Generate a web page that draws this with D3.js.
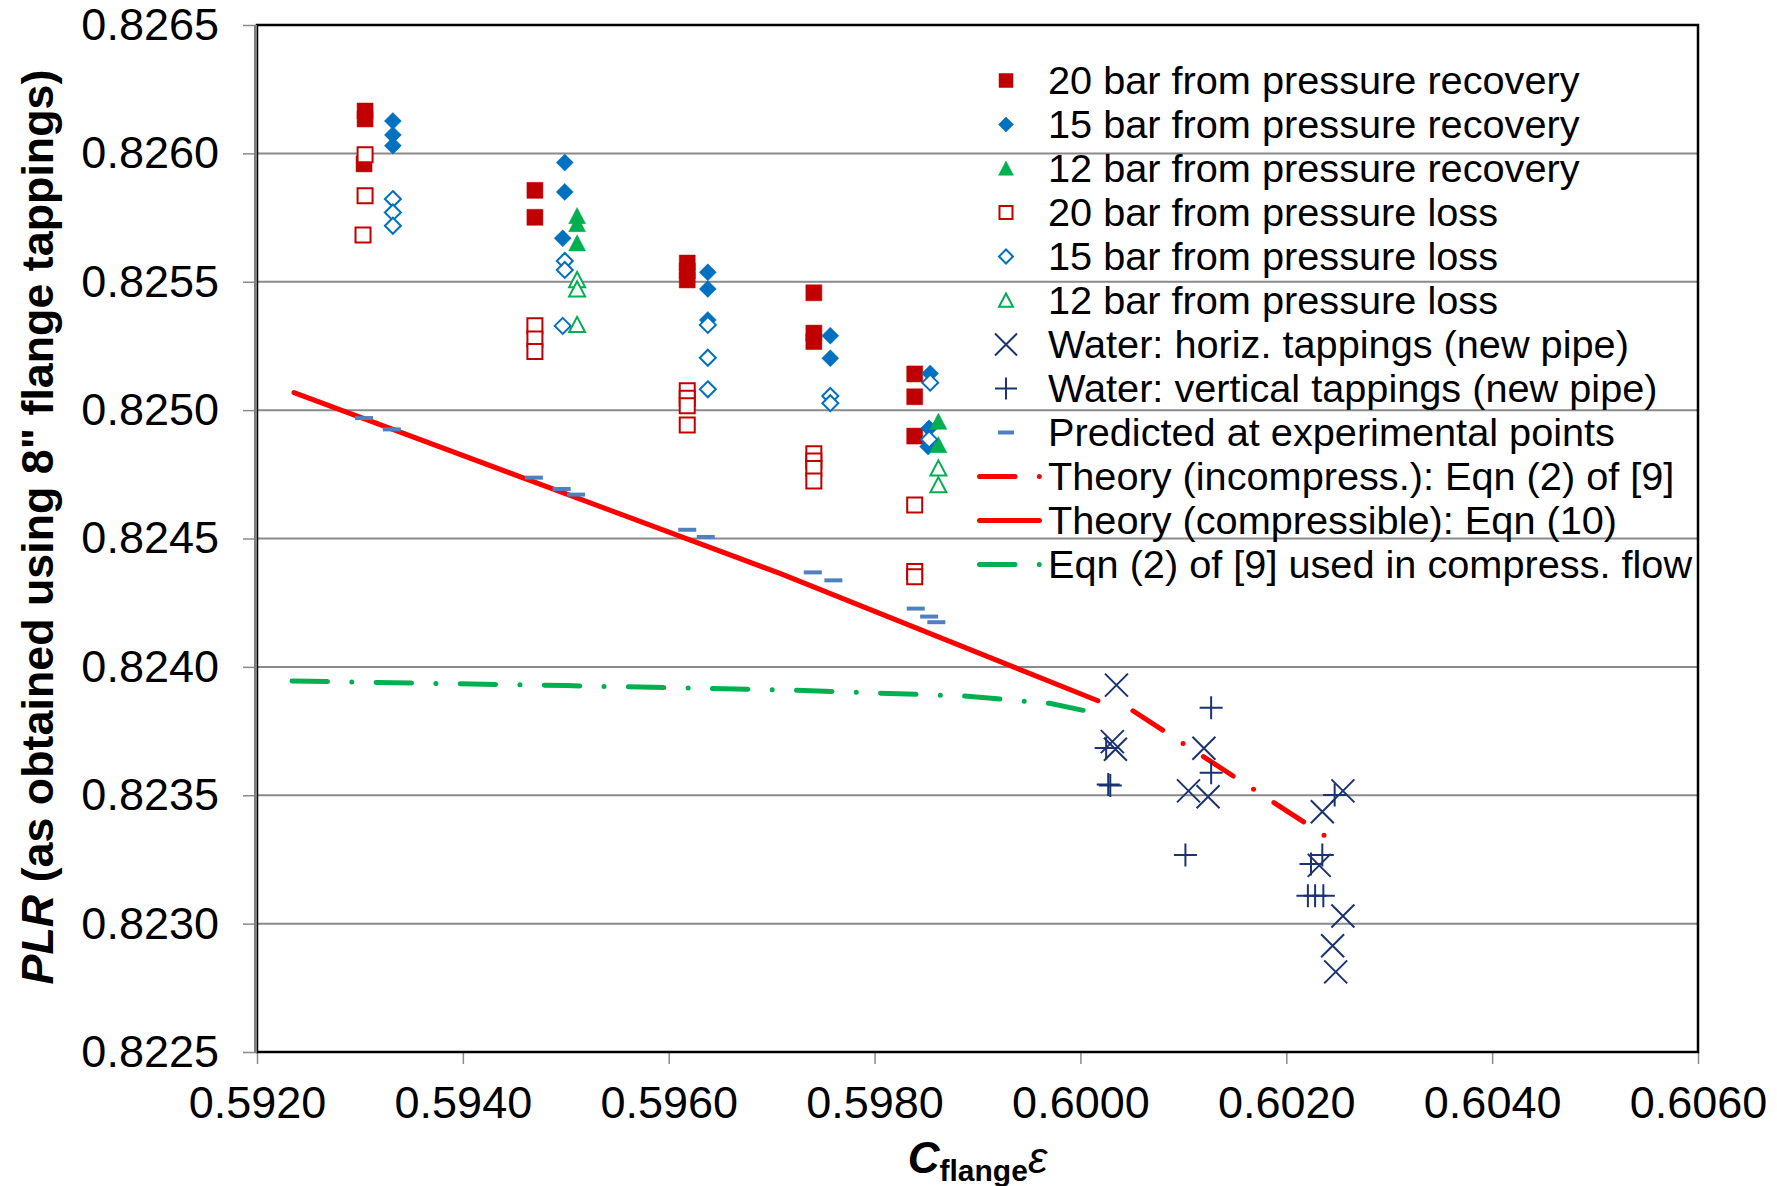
<!DOCTYPE html>
<html>
<head>
<meta charset="utf-8">
<script src="https://cdn.jsdelivr.net/npm/d3@7"></script>
<style>
  body { margin: 0; background: #fff; }
  text { font-family: "Liberation Sans", Arial, sans-serif; fill: #000; }
</style>
</head>
<body>
<div id="chart"></div>
<script>
// axis ticks
const xTicks = [0.592, 0.594, 0.596, 0.598, 0.600, 0.602, 0.604, 0.606];
const yTicks = [0.8225, 0.8230, 0.8235, 0.8240, 0.8245, 0.8250, 0.8255, 0.8260, 0.8265];

// experimental points [C_flange*eps, PLR]
const bar20Recovery = [[0.59305,0.826165],[0.59305,0.826134],[0.59304,0.825959],[0.59470,0.825856],[0.59470,0.825751],
  [0.59618,0.825573],[0.59618,0.825542],[0.59618,0.825507],[0.59741,0.825457],[0.59741,0.825300],[0.59741,0.825267],
  [0.59839,0.825141],[0.59839,0.825052],[0.59839,0.824899]];
const bar15Recovery = [[0.59332,0.826126],[0.59332,0.826072],[0.59332,0.826030],[0.59499,0.825964],[0.59499,0.825850],
  [0.59497,0.825669],[0.59638,0.825537],[0.59638,0.825472],[0.59638,0.825351],[0.59757,0.825290],[0.59757,0.825202],
  [0.59854,0.825143],[0.59853,0.824929],[0.59852,0.824858]];
const bar12Recovery = [[0.59511,0.825756],[0.59511,0.825725],[0.59511,0.825650],[0.59862,0.824955],[0.59862,0.824864]];
const bar20Loss = [[0.59305,0.825995],[0.59305,0.825835],[0.59303,0.825682],[0.59470,0.825329],[0.59470,0.825277],
  [0.59470,0.825228],[0.59618,0.825075],[0.59618,0.825046],[0.59618,0.825017],[0.59618,0.824942],[0.59741,0.824830],
  [0.59741,0.824802],[0.59741,0.824773],[0.59741,0.824724],[0.59839,0.824630],[0.59839,0.824371],[0.59839,0.824351]];
const bar15Loss = [[0.59332,0.825822],[0.59332,0.825770],[0.59332,0.825718],[0.59499,0.825581],[0.59499,0.825546],
  [0.59497,0.825328],[0.59638,0.825332],[0.59638,0.825204],[0.59638,0.825081],[0.59757,0.825055],[0.59757,0.825027],
  [0.59854,0.825107],[0.59853,0.824886]];
const bar12Loss = [[0.59511,0.825507],[0.59511,0.825471],[0.59511,0.825332],[0.59862,0.824773],[0.59862,0.824708]];
const waterHoriz = [[0.60035,0.823929],[0.60031,0.823709],[0.60034,0.823679],[0.60120,0.823683],[0.60105,0.823517],
  [0.60124,0.823494],[0.60255,0.823517],[0.60235,0.823436],[0.60232,0.823227],[0.60255,0.823030],[0.60245,0.822914],
  [0.60248,0.822812]];
const waterVert = [[0.60127,0.823841],[0.60025,0.823684],[0.60027,0.823542],[0.60029,0.823538],[0.60127,0.823588],
  [0.60102,0.823267],[0.60247,0.823501],[0.60235,0.823267],[0.60224,0.823232],[0.60221,0.823109],[0.60228,0.823109],
  [0.60236,0.823109]];
const predicted = [[0.59304,0.824969],[0.59331,0.824925],[0.59469,0.824737],[0.59496,0.824693],[0.59510,0.824671],
  [0.59618,0.824534],[0.59636,0.824506],[0.59740,0.824368],[0.59760,0.824337],[0.59840,0.824227],[0.59853,0.824196],
  [0.59860,0.824174]];

// theory curves
const theoryIncompress = [[0.60051,0.823829],[0.60238,0.823341]];
const theoryCompress = [[0.59236,0.825068],[0.59708,0.824364],[0.60017,0.823868]];
const eqn2Compress = [[0.59234,0.823945],[0.59501,0.823927],[0.59721,0.823909],[0.59886,0.823887],[0.59970,0.823858],[0.60006,0.823828]];

const legendLabels = [
  "20 bar from pressure recovery", "15 bar from pressure recovery", "12 bar from pressure recovery",
  "20 bar from pressure loss", "15 bar from pressure loss", "12 bar from pressure loss",
  "Water: horiz. tappings (new pipe)", "Water: vertical tappings (new pipe)", "Predicted at experimental points",
  "Theory (incompress.): Eqn (2) of [9]", "Theory (compressible): Eqn (10)", "Eqn (2) of [9] used in compress. flow"
];

const W = 1777, H = 1186;
const margin = {top: 25, right: 79, bottom: 134, left: 257};
const width = W - margin.left - margin.right,
      height = H - margin.top - margin.bottom;

const RED = "#c00000", BLUE = "#0070c0", GREEN = "#00b050", NAVY = "#1b3370", DASHBLUE = "#4f81bd";

// marker shapes (size = full width in px)
const shapes = {
  square: {draw(c, s) { const r = s / 2; c.rect(-r, -r, s, s); }},
  diamond: {draw(c, s) { const r = s / 2; c.moveTo(0, -r); c.lineTo(r, 0); c.lineTo(0, r); c.lineTo(-r, 0); c.closePath(); }},
  triangle: {draw(c, s) { const r = s / 2; c.moveTo(0, -r); c.lineTo(r, r * 0.9); c.lineTo(-r, r * 0.9); c.closePath(); }},
  cross: {draw(c, s) { const r = s / 2; c.moveTo(-r, -r); c.lineTo(r, r); c.moveTo(r, -r); c.lineTo(-r, r); }},
  plus: {draw(c, s) { const r = s / 2; c.moveTo(0, -r); c.lineTo(0, r); c.moveTo(-r, 0); c.lineTo(r, 0); }},
  dash: {draw(c, s) { c.rect(-s / 2, -2, s, 4); }}
};

const pointSeries = [
  {data: bar20Recovery, shape: "square", size: 16, fill: RED, stroke: RED, sw: 0.5},
  {data: bar15Recovery, shape: "diamond", size: 17, fill: BLUE, stroke: BLUE, sw: 0.5},
  {data: bar12Recovery, shape: "triangle", size: 17, fill: GREEN, stroke: GREEN, sw: 0.5},
  {data: bar20Loss, shape: "square", size: 15, fill: "#fff", stroke: RED, sw: 2},
  {data: bar15Loss, shape: "diamond", size: 16, fill: "#fff", stroke: BLUE, sw: 2},
  {data: bar12Loss, shape: "triangle", size: 16, fill: "#fff", stroke: GREEN, sw: 2},
  {data: waterHoriz, shape: "cross", size: 23, fill: "none", stroke: NAVY, sw: 2},
  {data: waterVert, shape: "plus", size: 23, fill: "none", stroke: NAVY, sw: 2},
  {data: predicted, shape: "dash", size: 18, fill: DASHBLUE, stroke: "none", sw: 0}
];

const dashDot = "35.5 24.3 0 24.3";
const lineSeries = [
  {data: theoryIncompress, color: "#ff0000", dash: dashDot},
  {data: theoryCompress, color: "#ff0000", dash: null},
  {data: eqn2Compress, color: GREEN, dash: dashDot}
];

const svg = d3.select("#chart")
  .append("svg")
    .attr("width", W)
    .attr("height", H)
  .append("g")
    .attr("transform", `translate(${margin.left},${margin.top})`);

const x = d3.scaleLinear().domain([0.592, 0.606]).range([0, width]);
const y = d3.scaleLinear().domain([0.8225, 0.8265]).range([height, 0]);

// gridlines
svg.append("g")
  .selectAll("line")
  .data(yTicks.slice(1, -1))
  .join("line")
    .attr("x1", 0).attr("x2", width)
    .attr("y1", d => y(d)).attr("y2", d => y(d))
    .attr("stroke", "#8a8a8a")
    .attr("stroke-width", 2);

// axes
const xAxis = svg.append("g")
  .attr("transform", `translate(0,${height})`)
  .call(d3.axisBottom(x).tickValues(xTicks).tickFormat(d3.format(".4f")).tickSize(12).tickPadding(22));
const yAxis = svg.append("g")
  .call(d3.axisLeft(y).tickValues(yTicks).tickFormat(d3.format(".4f")).tickSize(14).tickPadding(24));
[xAxis, yAxis].forEach(a => {
  a.select(".domain").remove();
  a.selectAll(".tick line").attr("stroke", "#8a8a8a").attr("stroke-width", 1.5);
  a.selectAll(".tick text").style("font-family", '"Liberation Sans", Arial, sans-serif').style("font-size", "45px").attr("fill", "#000");
});

// plot frame
svg.append("rect")
  .attr("x", 0).attr("y", 0).attr("width", width).attr("height", height)
  .attr("fill", "none").attr("stroke", "#000").attr("stroke-width", 2.5);
svg.append("line")
  .attr("x1", -1.5).attr("x2", -1.5).attr("y1", 0).attr("y2", height + 1)
  .attr("stroke", "#7f7f7f").attr("stroke-width", 3);

// lines
const line = d3.line().x(d => x(d[0])).y(d => y(d[1]));
svg.append("g")
  .selectAll("path")
  .data(lineSeries)
  .join("path")
    .attr("d", d => line(d.data))
    .attr("fill", "none")
    .attr("stroke", d => d.color)
    .attr("stroke-width", 5)
    .attr("stroke-linecap", "round")
    .attr("stroke-dasharray", d => d.dash);

// markers
pointSeries.forEach(s => {
  svg.append("g")
    .selectAll("path")
    .data(s.data)
    .join("path")
      .attr("transform", d => `translate(${x(d[0])},${y(d[1])})`)
      .attr("d", d3.symbol().type(shapes[s.shape]).size(s.size))
      .attr("fill", s.fill)
      .attr("stroke", s.stroke)
      .attr("stroke-width", s.sw);
});

// legend
const legendX = 1006 - margin.left, legendY0 = 80.5 - margin.top, legendStep = 44;
const legend = svg.append("g");
const items = legend.selectAll("g")
  .data(legendLabels)
  .join("g")
    .attr("transform", (d, i) => `translate(${legendX},${legendY0 + i * legendStep})`);
items.append("text")
  .attr("x", 42)
  .attr("dy", "0.35em")
  .style("font-size", "39.7px")
  .text(d => d);
items.each(function(d, i) {
  const g = d3.select(this);
  if (i < pointSeries.length) {
    const s = pointSeries[i];
    g.append("path")
      .attr("d", d3.symbol().type(shapes[s.shape]).size(s.shape === "cross" || s.shape === "plus" ? 22 : s.size - 2))
      .attr("fill", s.fill)
      .attr("stroke", s.stroke)
      .attr("stroke-width", s.sw);
  } else {
    const l = lineSeries[i - pointSeries.length];
    g.append("line")
      .attr("x1", -26.5).attr("x2", l.dash ? 34.5 : 33.5)
      .attr("stroke", l.color)
      .attr("stroke-width", 5)
      .attr("stroke-linecap", "round")
      .attr("stroke-dasharray", l.dash);
  }
});

// axis titles
const yTitle = svg.append("text")
  .attr("transform", `translate(${37 - margin.left},${527 - margin.top}) rotate(-90)`)
  .attr("text-anchor", "middle")
  .attr("dy", "0.35em")
  .style("font-size", "44.8px")
  .style("font-weight", "bold");
yTitle.append("tspan").style("font-style", "italic").text("PLR");
yTitle.append("tspan").text(" (as obtained using 8\" flange tappings)");

const xTitle = svg.append("text")
  .attr("x", width / 2)
  .attr("y", 1173 - margin.top)
  .attr("text-anchor", "middle")
  .style("font-size", "44px")
  .style("font-weight", "bold");
xTitle.append("tspan").style("font-style", "italic").text("C");
xTitle.append("tspan").attr("dy", 8).style("font-size", "30px").text("flange");
xTitle.append("tspan").attr("dy", -8).style("font-style", "italic").style("font-weight", "normal").text("ε");
</script>
</body>
</html>
